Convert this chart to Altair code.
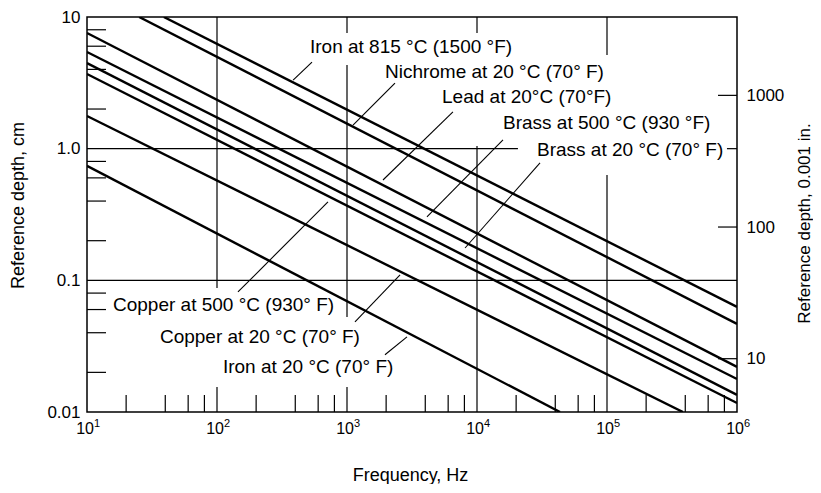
import altair as alt
import pandas as pd

# ---- data ----
materials = [
    "Iron at 815 °C (1500 °F)",
    "Nichrome at 20 °C (70° F)",
    "Lead at 20°C (70°F)",
    "Brass at 500 °C (930 °F)",
    "Brass at 20 °C (70° F)",
    "Copper at 500 °C (930° F)",
    "Copper at 20 °C (70° F)",
    "Iron at 20 °C (70° F)",
]
# line end points (frequency Hz, reference depth cm) where each line meets the frame
line_f_start = [39, 25.2, 10, 10, 10, 10, 10, 10]
line_d_start = [10, 10, 7.56, 5.42, 4.47, 3.69, 1.77, 0.74]
line_f_end = [1e6, 1e6, 1e6, 1e6, 1e6, 1e6, 3.84e5, 4.35e4]
line_d_end = [0.0628, 0.0467, 0.0220, 0.0178, 0.0135, 0.0117, 0.01, 0.01]

# label anchors (left edge, vertical middle)
label_f = [519, 1959, 5383, 15850, 28940, 15.85, 36.4, 111]
label_d = [5.92, 3.82, 2.47, 1.567, 0.977, 0.065, 0.0372, 0.022]

# leader lines from curve to label
leader_f1 = [385, 1112, 1892, 4121, 8091, 145, 1152, 1959]
leader_d1 = [3.32, 1.51, 0.578, 0.303, 0.176, 0.0816, 0.0483, 0.0272]
leader_f2 = [538, 2339, 6531, 15850, 30530, 714, 2559, 2894]
leader_d2 = [4.55, 3.15, 1.90, 1.164, 0.779, 0.394, 0.11, 0.0372]

# grid line pieces (interrupted by the labels)
grid_f1 = [100, 100, 1000, 1000, 1000, 1e4, 1e4, 1e5, 1e5, 10, 8.37e5, 10]
grid_f2 = [100, 100, 1000, 1000, 1000, 1e4, 1e4, 1e5, 1e5, 20650, 1e6, 1e6]
grid_d1 = [10, 0.0155, 10, 4.32, 0.0155, 10, 1.05, 10, 0.63, 1.0, 1.0, 0.1]
grid_d2 = [0.0875, 0.01, 7.56, 0.0527, 0.01, 7.56, 0.01, 5.15, 0.01, 1.0, 1.0, 0.1]

x_major = [10, 100, 1000, 10000, 100000, 1000000]
x_major_exp = ["1", "2", "3", "4", "5", "6"]
x_minor = [20, 40, 60, 80, 200, 400, 600, 800, 2000, 4000, 6000, 8000,
           2e4, 4e4, 6e4, 8e4, 2e5, 4e5, 6e5, 8e5]
y_major = [0.01, 0.1, 1.0, 10]
y_minor = [0.02, 0.04, 0.06, 0.08, 0.2, 0.4, 0.6, 0.8, 2, 4, 6, 8]
mils_ticks = [10, 100, 1000]
mils_domain = [3.937, 3937.0]

FONT = "Liberation Sans"

# ---- tables ----
lines_df = pd.DataFrame({
    "name": materials + materials,
    "f": line_f_start + line_f_end,
    "d": line_d_start + line_d_end,
})
labels_df = pd.DataFrame({"name": materials, "f": label_f, "d": label_d})
leaders_df = pd.DataFrame({"f": leader_f1, "f2": leader_f2, "d": leader_d1, "d2": leader_d2})
grid_df = pd.DataFrame({"f": grid_f1, "f2": grid_f2, "d": grid_d1, "d2": grid_d2})
xminor_df = pd.DataFrame({"f": x_minor})
yminor_df = pd.DataFrame({"d": y_minor})
xlab_df = pd.DataFrame({"f": x_major, "base": ["10"] * len(x_major), "exp": x_major_exp})
mils_df = pd.DataFrame({"m": mils_ticks})

xscale = alt.Scale(type="log", domain=[10, 1e6], nice=False)
yscale = alt.Scale(type="log", domain=[0.01, 10], nice=False)

xaxis = alt.Axis(
    values=x_major, labels=False,
    ticks=False, domain=False, grid=False,
    title="Frequency, Hz", titleFontSize=18, titleX=323, titleY=63,
    titleAlign="center", titleBaseline="middle",
)
yaxis = alt.Axis(
    values=y_major,
    labelExpr="datum.value >= 5 ? '10' : datum.value >= 0.5 ? '1.0' : datum.value >= 0.05 ? '0.1' : '0.01'",
    ticks=False, domain=False, grid=False,
    labelFontSize=17, labelPadding=7,
    title="Reference depth, cm", titleFontSize=18, titleAngle=270,
    titleX=-69, titleY=188, titleAlign="center", titleBaseline="middle",
)

X = alt.X("f:Q", scale=xscale, axis=xaxis)
Y = alt.Y("d:Q", scale=yscale, axis=yaxis)

data_lines = alt.Chart(lines_df).mark_line(clip=True, color="black", strokeWidth=2.4).encode(
    x=X, y=Y, detail="name:N", order="f:Q"
)
grid = alt.Chart(grid_df).mark_rule(color="black", strokeWidth=1.2).encode(
    x=X, x2="f2:Q", y=Y, y2="d2:Q"
)
leaders = alt.Chart(leaders_df).mark_rule(color="black", strokeWidth=1.1).encode(
    x=X, x2="f2:Q", y=Y, y2="d2:Q"
)
labels = alt.Chart(labels_df).mark_text(
    align="left", baseline="middle", fontSize=19, font=FONT, color="black"
).encode(x=X, y=Y, text="name:N")
xminor = alt.Chart(xminor_df).mark_rule(color="black", strokeWidth=1.2).encode(
    x=X, y=alt.value(378), y2=alt.value(395)
)
yminor = alt.Chart(yminor_df).mark_rule(color="black", strokeWidth=1.2).encode(
    y=Y, x=alt.value(0), x2=alt.value(19)
)
xlab_base = alt.Chart(xlab_df).mark_text(
    align="right", baseline="middle", fontSize=16, font=FONT, color="black", dx=7
).encode(x=X, y=alt.value(412), text="base:N")
xlab_exp = alt.Chart(xlab_df).mark_text(
    align="left", baseline="middle", fontSize=11, font=FONT, color="black", dx=7
).encode(x=X, y=alt.value(407), text="exp:N")

main = alt.layer(grid, data_lines, leaders, labels, xminor, yminor, xlab_base, xlab_exp)

right = alt.Chart(mils_df).mark_rule(color="black", strokeWidth=1.2).encode(
    y=alt.Y("m:Q", scale=alt.Scale(type="log", domain=mils_domain, nice=False),
            axis=alt.Axis(orient="right", values=mils_ticks, ticks=False, domain=False,
                          grid=False, labelFontSize=17, labelPadding=9, format="d",
                          title="Reference depth, 0.001 in.", titleFontSize=17,
                          titleAngle=270, titleX=67, titleY=206,
                          titleAlign="center", titleBaseline="middle")),
    x=alt.value(631), x2=alt.value(650),
)

chart = alt.layer(main, right).resolve_scale(y="independent").properties(
    width=650, height=395,
    padding={"left": 79, "top": 9, "right": 76, "bottom": 72},
    autosize=alt.AutoSizeParams(type="none"),
).configure_view(stroke="black", strokeWidth=1.5).configure_axis(
    labelFont=FONT, titleFont=FONT, labelColor="black", titleColor="black",
    titleFontWeight="normal",
)

chart.save("out.html", embed_options={"renderer": "svg", "actions": False})
